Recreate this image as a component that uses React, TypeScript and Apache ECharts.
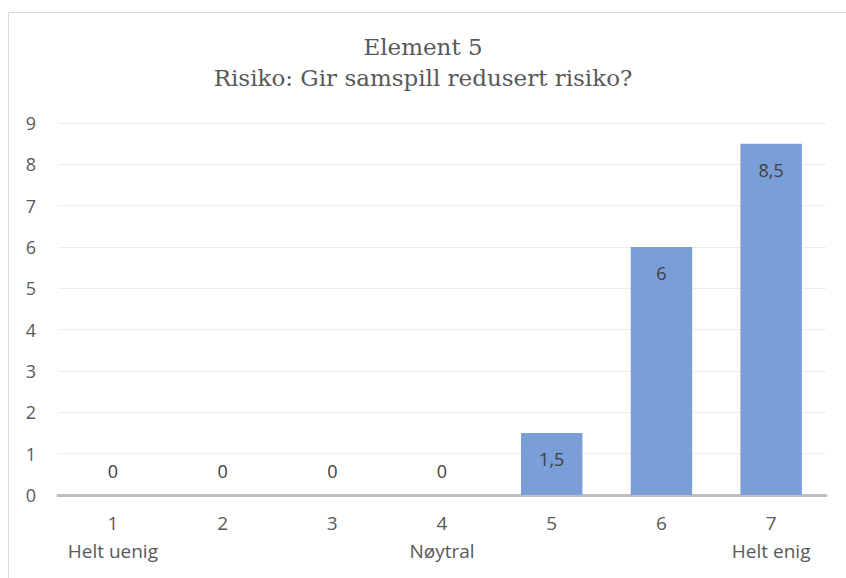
import React, { useEffect, useRef } from "react";
import * as echarts from "echarts";

const categories = ["1", "2", "3", "4", "5", "6", "7"];
const subLabels = ["Helt uenig", "", "", "Nøytral", "", "", "Helt enig"];
const values = [0, 0, 0, 0, 1.5, 6, 8.5];
const titleLines = ["Element 5", "Risiko: Gir samspill redusert risiko?"];

export default function App() {
  const ref = useRef<HTMLDivElement>(null);
  useEffect(() => {
    document.body.style.margin = "0";
    const chart = echarts.init(ref.current!, null, { renderer: "svg" });
    const labelFont = "'Open Sans', Lato, sans-serif";
    chart.setOption({
      animation: false,
      backgroundColor: "#ffffff",
      title: {
        text: titleLines.join("\n"),
        left: "center",
        top: 26,
        textStyle: {
          fontFamily: "'DejaVu Serif', serif",
          fontWeight: "normal",
          fontSize: 23,
          lineHeight: 31,
          color: "#595959",
        },
      },
      graphic: [
        {
          type: "rect",
          shape: { x: 8.5, y: 12.5, width: 900, height: 700 },
          style: { fill: "none", stroke: "#d9d9d9", lineWidth: 1 },
          silent: true,
          z: -1,
        },
      ],
      grid: { left: 58, right: 20, top: 123, bottom: 83 },
      xAxis: {
        type: "category",
        data: categories.map((c, i) => (subLabels[i] ? c + "\n" + subLabels[i] : c)),
        axisLine: { lineStyle: { color: "#bfbfbf", width: 3 } },
        axisTick: { show: false },
        axisLabel: {
          fontFamily: labelFont,
          fontSize: 19,
          lineHeight: 28,
          color: "#595959",
          margin: 14,
          interval: 0,
        },
      },
      yAxis: {
        type: "value",
        min: 0,
        max: 9,
        interval: 1,
        axisLine: { show: false },
        axisTick: { show: false },
        splitLine: { lineStyle: { color: "#ececec", width: 1 } },
        axisLabel: {
          fontFamily: labelFont,
          fontSize: 18,
          color: "#595959",
          margin: 22,
        },
      },
      series: [
        {
          type: "bar",
          barWidth: "56%",
          itemStyle: { color: "#7a9ed7" },
          data: values.map((v) => ({
            value: v,
            label: {
              show: true,
              position: v === 0 ? "top" : "insideTop",
              distance: v === 0 ? 15 : 17,
              formatter: (p: any) => String(p.value).replace(".", ","),
              fontFamily: labelFont,
              fontSize: 18,
              color: "#404040",
            },
          })),
        },
      ],
    });
    return () => chart.dispose();
  }, []);
  return <div ref={ref} style={{ width: 846, height: 578 }} />;
}
